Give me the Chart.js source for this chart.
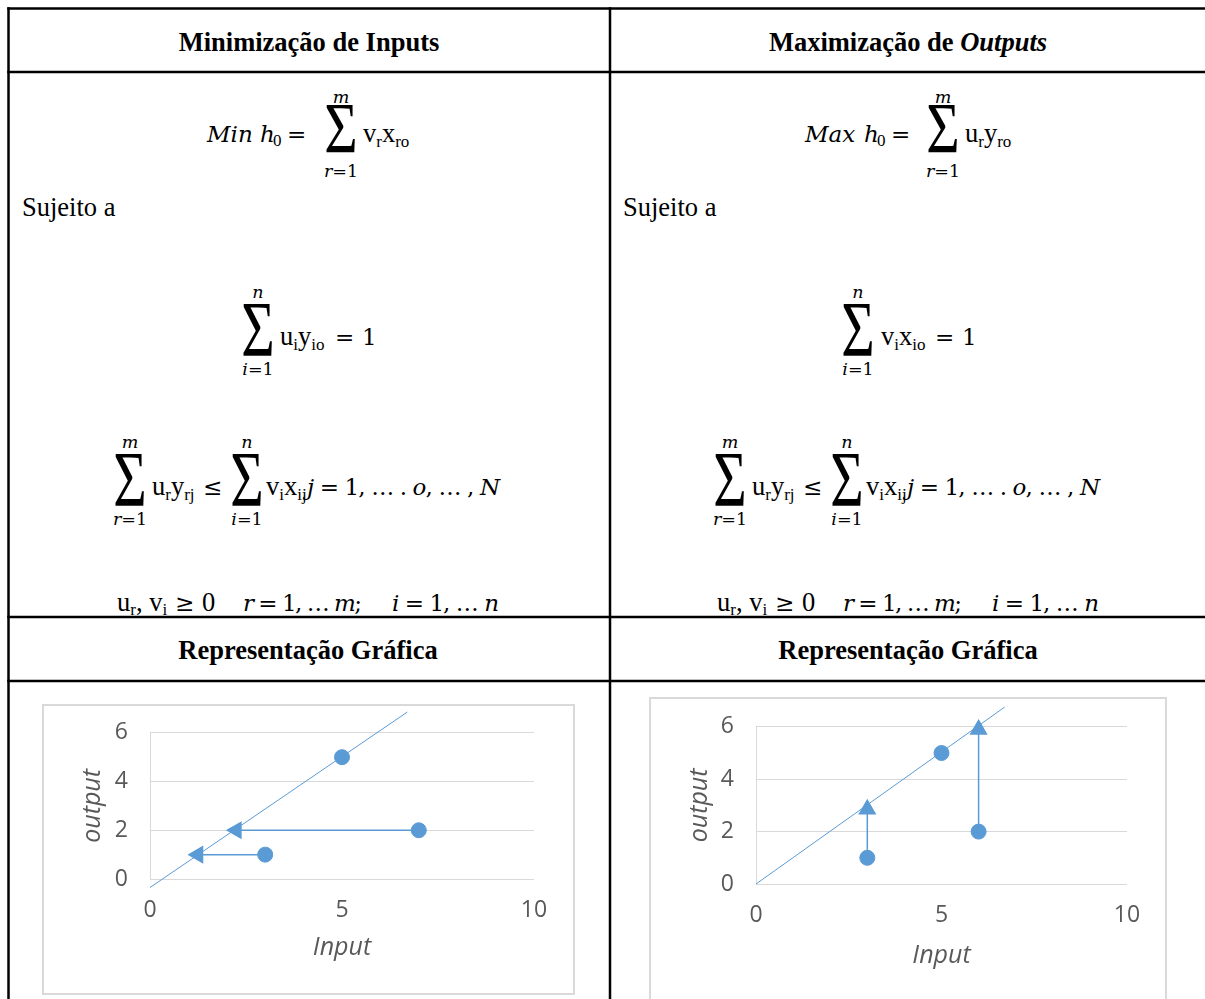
<!DOCTYPE html>
<html>
<head>
<meta charset="utf-8">
<script src="https://cdn.jsdelivr.net/npm/chart.js@4.4.4/dist/chart.umd.min.js"></script>
<style>
html, body { margin: 0; padding: 0; background: #fff; width: 1205px; height: 999px; overflow: hidden; }
#sheet { position: absolute; left: 0; top: 0; }
.t { font-family: 'Liberation Serif'; font-size: 26.5px; fill: #000; }
.b { font-weight: bold; }
.sub { font-size: 17px; }
.m { font-family: 'DejaVu Serif'; font-size: 23px; fill: #000; }
.lim { font-family: 'DejaVu Serif'; font-size: 17.5px; fill: #000; }
.sig { font-family: 'Liberation Serif'; font-size: 50px; fill: #000; }
.box { position: absolute; border: 2px solid #d9d9d9; background: #fff; }
canvas { position: absolute; }
</style>
</head>
<body>
<svg id="sheet" width="1205" height="999"></svg>
<div class="box" style="left:42px; top:704px; width:529px; height:287px;"></div>
<div class="box" style="left:649px; top:697px; width:514px; height:320px;"></div>
<canvas id="chartMin" width="529" height="296"></canvas>
<canvas id="chartMax" width="514" height="308"></canvas>
<script>
// input orientation: inputs pulled back to the frontier
const minFrontierX = [0, 6.7];
const minFrontierY = [-0.35, 6.85];
const minDmuX = [5, 7, 3];
const minDmuY = [5, 2, 1];
const minFromX = [7, 3];
const minFromY = [2, 1];
const minToX = [2.25, 1.25];
const minToY = [2, 1];

// output orientation: outputs pushed up to the frontier
const maxFrontierX = [0, 6.7];
const maxFrontierY = [0, 6.75];
const maxDmuX = [5, 6, 3];
const maxDmuY = [5, 2, 1];
const maxFromX = [3, 6];
const maxFromY = [1, 2];
const maxToX = [3, 6];
const maxToY = [2.85, 5.9];

const xTicks = [0, 5, 10];
const yTicks = [0, 2, 4, 6];
const xTitle = 'Input';
const yTitle = 'output';

const BLUE = '#5b9bd5';
const GRAY = '#595959';
const GRID = '#d9d9d9';

// ---- table with the two models ----
let s = '';
[[7.25, 8.5, 1205, 8.5], [8.5, 7.25, 8.5, 999], [610, 7.25, 610, 999],
 [7.25, 72, 1205, 72], [7.25, 617, 1205, 617], [7.25, 681, 1205, 681]].forEach(l => {
  s += `<line x1="${l[0]}" y1="${l[1]}" x2="${l[2]}" y2="${l[3]}" stroke="#000" stroke-width="2.5"/>`;
});

s += `<text class="t b" x="309" y="51" text-anchor="middle">Minimização de Inputs</text>`;
s += `<text class="t b" x="908" y="51" text-anchor="middle">Maximização de <tspan font-style="italic">Outputs</tspan></text>`;
s += `<text class="t b" x="308" y="659" text-anchor="middle">Representação Gráfica</text>`;
s += `<text class="t b" x="908" y="659" text-anchor="middle">Representação Gráfica</text>`;

function sigma(cx, b, top, idx, o) {
  o = o || {};
  const sy = o.sy || 1.55;
  s += `<text class="sig" text-anchor="middle" transform="translate(${cx},${b + 10}) scale(1.15,${sy})">Σ</text>`;
  s += `<text class="lim" text-anchor="middle" x="${cx}" y="${b - (o.up || 47)}" font-style="italic">${top}</text>`;
  s += `<text class="lim" text-anchor="middle" x="${cx}" y="${b + (o.down || 30)}"><tspan font-style="italic">${idx}</tspan>=1</text>`;
}
function pair(x, b, a, as, c, cs) {
  s += `<text class="t" x="${x}" y="${b}">${a}<tspan class="sub" dy="5">${as}</tspan><tspan dy="-5">${c}</tspan><tspan class="sub" dy="5">${cs}</tspan></text>`;
}

function column(dx, left) {
  // objective
  const f1 = { sy: 1.42, up: 39, down: 35 };
  if (left) {
    s += `<text class="m" x="207" y="142" font-style="italic">Min</text>`;
    s += `<text class="m" x="260" y="142" font-style="italic">h</text>`;
    s += `<text class="t sub" x="273" y="146">0</text>`;
    s += `<text class="m" x="287" y="142">=</text>`;
    sigma(341, 142, 'm', 'r', f1);
    pair(363, 142, 'v', 'r', 'x', 'ro');
  } else {
    s += `<text class="m" x="805" y="142" font-style="italic">Max</text>`;
    s += `<text class="m" x="864" y="142" font-style="italic">h</text>`;
    s += `<text class="t sub" x="877" y="146">0</text>`;
    s += `<text class="m" x="891" y="142">=</text>`;
    sigma(943, 142, 'm', 'r', f1);
    pair(965, 142, 'u', 'r', 'y', 'ro');
  }
  s += `<text class="t" x="${22 + dx + (left ? 0 : 1)}" y="216">Sujeito a</text>`;

  // normalisation constraint
  sigma(258 + dx, 345, 'n', 'i');
  if (left) pair(280, 345, 'u', 'i', 'y', 'io');
  else pair(881, 345, 'v', 'i', 'x', 'io');
  s += `<text class="m" x="${335 + dx}" y="345">=</text>`;
  s += `<text class="m" x="${362 + dx}" y="345">1</text>`;

  // frontier constraint
  sigma(130 + dx, 495, 'm', 'r');
  pair(152 + dx, 495, 'u', 'r', 'y', 'rj');
  s += `<text class="m" x="${203 + dx}" y="495">≤</text>`;
  sigma(247 + dx, 495, 'n', 'i');
  pair(266 + dx, 495, 'v', 'i', 'x', 'ij');
  s += `<text class="m" x="${307 + dx}" y="495" textLength="193" lengthAdjust="spacing"><tspan font-style="italic">j</tspan> = 1, … . <tspan font-style="italic">o</tspan>, … , <tspan font-style="italic">N</tspan></text>`;

  // non negativity
  s += `<text class="t" x="${117 + dx}" y="611">u<tspan class="sub" dy="4">r</tspan><tspan dy="-4">, v</tspan><tspan class="sub" dy="4">i</tspan></text>`;
  s += `<text class="m" x="${175 + dx}" y="611">≥</text>`;
  s += `<text class="t" x="${202 + dx}" y="611">0</text>`;
  s += `<text class="m" x="${243 + dx}" y="611" textLength="119" lengthAdjust="spacing"><tspan font-style="italic">r</tspan> = 1, … <tspan font-style="italic">m</tspan>;</text>`;
  s += `<text class="m" x="${392 + dx}" y="611" textLength="107" lengthAdjust="spacing"><tspan font-style="italic">i</tspan> = 1, … <tspan font-style="italic">n</tspan></text>`;
}
column(0, true);
column(600, false);
document.getElementById('sheet').innerHTML = s;

// ---- charts ----
function pts(xs, ys) {
  return xs.map((x, i) => ({ x: x, y: ys[i] }));
}

function dmuChart(id, cfg) {
  const canvas = document.getElementById(id);
  const datasets = [{
    data: pts(cfg.dmuX, cfg.dmuY),
    showLine: false,
    pointRadius: 7.5,
    pointBackgroundColor: BLUE,
    pointBorderColor: BLUE,
    clip: false
  }];
  cfg.fromX.forEach((fx, i) => {
    datasets.push({
      data: pts([fx, cfg.toX[i]], [cfg.fromY[i], cfg.toY[i]]),
      showLine: true,
      borderColor: BLUE,
      borderWidth: 1.5,
      pointRadius: [0, 9],
      pointStyle: 'triangle',
      rotation: cfg.rotation,
      pointBackgroundColor: BLUE,
      pointBorderColor: BLUE,
      clip: false
    });
  });
  datasets.push({
    data: pts(cfg.lineX, cfg.lineY),
    showLine: true,
    borderColor: BLUE,
    borderWidth: 1,
    pointRadius: 0,
    clip: false
  });

  const chart = new Chart(canvas, {
    type: 'scatter',
    data: { datasets },
    options: {
      responsive: false,
      animation: false,
      events: [],
      layout: { padding: { top: 0, right: cfg.right, left: 0, bottom: 0 } },
      plugins: { legend: { display: false }, tooltip: { enabled: false } },
      scales: {
        x: {
          type: 'linear',
          min: xTicks[0],
          max: xTicks[xTicks.length - 1],
          ticks: { stepSize: xTicks[1] - xTicks[0], padding: 10, color: GRAY, font: { family: 'Open Sans', size: 23 } },
          grid: { display: false },
          border: { display: false },
          title: {
            display: true, text: xTitle, color: GRAY,
            font: { family: 'Open Sans', size: 25, style: 'italic' },
            padding: { top: 0, bottom: cfg.xTitlePad }
          },
          afterFit: function (scale) { scale.height = cfg.xH; }
        },
        y: {
          type: 'linear',
          min: yTicks[0],
          max: yTicks[yTicks.length - 1],
          ticks: { stepSize: yTicks[1] - yTicks[0], padding: 22, color: GRAY, font: { family: 'Open Sans', size: 23 } },
          grid: { color: GRID, lineWidth: 1, drawTicks: false },
          border: { display: true, color: GRID, width: 1 },
          title: {
            display: true, text: yTitle, color: GRAY,
            font: { family: 'Open Sans', size: 25, style: 'italic' },
            padding: { top: 34, bottom: 0 }
          },
          afterFit: function (scale) { scale.width = cfg.yW; }
        }
      }
    }
  });

  // put the plot area where the reference has it
  canvas.style.left = Math.round(cfg.plotLeft - chart.chartArea.left) + 'px';
  canvas.style.top = Math.round(cfg.plotTop - chart.chartArea.top) + 'px';
}

dmuChart('chartMin', {
  dmuX: minDmuX, dmuY: minDmuY,
  fromX: minFromX, fromY: minFromY, toX: minToX, toY: minToY,
  lineX: minFrontierX, lineY: minFrontierY,
  rotation: -90,
  plotLeft: 150, plotTop: 733,
  right: 39, yW: 106, xH: 114, xTitlePad: 30
});

dmuChart('chartMax', {
  dmuX: maxDmuX, dmuY: maxDmuY,
  fromX: maxFromX, fromY: maxFromY, toX: maxToX, toY: maxToY,
  lineX: maxFrontierX, lineY: maxFrontierY,
  rotation: 0,
  plotLeft: 756, plotTop: 727,
  right: 38, yW: 105, xH: 115, xTitlePad: 28
});
</script>
</body>
</html>
